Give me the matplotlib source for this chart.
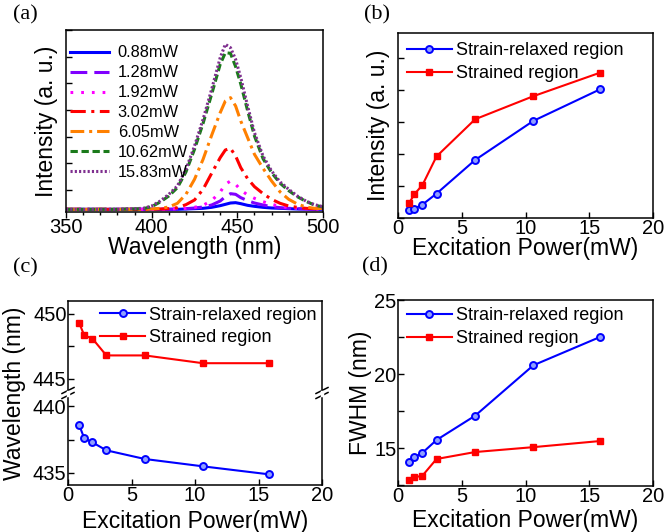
import numpy as np
import matplotlib
matplotlib.use("Agg")
import matplotlib.pyplot as plt
from matplotlib.ticker import MultipleLocator
from matplotlib.lines import Line2D

plt.rcParams["font.family"] = ["Liberation Sans", "DejaVu Sans"]

# (a) PL spectra, intensity in a.u.
wl = [350, 380, 395, 400, 405, 410, 415, 420, 425, 430, 435, 440, 443,
      446, 449, 452, 456, 460, 465, 470, 475, 480, 485, 490, 495, 500]
spec_088 = [0, 0, 0, 0, 0, 0, 0, 1, 2, 3, 6, 11, 15, 19, 20, 17, 12, 9, 6, 4, 3, 2, 1, 1, 0, 0]
spec_128 = [0, 0, 0, 0, 0, 0, 1, 2, 4, 7, 13, 25, 38, 47, 45, 35, 26, 19, 13, 8, 5, 3, 2, 1, 0, 0]
spec_192 = [0, 0, 0, 0, 0, 1, 2, 3, 6, 12, 26, 52, 75, 85, 75, 58, 43, 33, 23, 15, 9, 5, 3, 2, 1, 0]
spec_302 = [0, 0, 0, 0, 1, 2, 5, 14, 28, 60, 108, 155, 178, 183, 160, 125, 92, 68, 47, 30, 18, 10, 6, 3, 2, 1]
spec_605 = [0, 0, 0, 1, 3, 7, 18, 45, 90, 150, 222, 290, 325, 335, 310, 265, 215, 165, 123, 85, 52, 30, 16, 7, 3, 2]
spec_1062 = [0, 0, 2, 8, 22, 40, 65, 112, 180, 258, 345, 435, 470, 468, 428, 376, 296, 220, 152, 110, 78, 56, 38, 24, 13, 7]
spec_1583 = [0, 0, 3, 10, 25, 45, 70, 120, 190, 270, 360, 455, 495, 485, 450, 395, 310, 230, 160, 115, 82, 60, 40, 25, 14, 8]
spec_labels = ["0.88mW", "1.28mW", "1.92mW", "3.02mW", "6.05mW", "10.62mW", "15.83mW"]

# (b)-(d) vs excitation power
power = [0.88, 1.28, 1.92, 3.02, 6.05, 10.62, 15.83]
int_relaxed = [0.26, 0.29, 0.42, 0.76, 1.81, 3.03, 4.01]
int_strained = [0.47, 0.74, 1.03, 1.92, 3.08, 3.80, 4.53]
wl_relaxed = [438.6, 437.6, 437.3, 436.7, 436.05, 435.5, 434.9]
wl_strained = [449.3, 448.35, 448.1, 446.8, 446.8, 446.2, 446.2]
fwhm_relaxed = [14.1, 14.4, 14.7, 15.56, 17.2, 20.6, 22.5]
fwhm_strained = [12.87, 13.04, 13.16, 14.28, 14.75, 15.08, 15.49]
series_labels = ["Strain-relaxed region", "Strained region"]

W, H = 665, 532
fig = plt.figure(figsize=(W / 100, H / 100), dpi=100)


def box(l, t, r, b):
    return [l / W, 1 - b / H, (r - l) / W, (b - t) / H]


LBL = 16.5
TICK = 14.5
SPW = 1.1


def style(ax, xdir="in"):
    for s in ax.spines.values():
        s.set_linewidth(SPW)
    ax.tick_params(axis="y", direction="in", length=4, width=1, labelsize=TICK, pad=1)
    ax.tick_params(axis="y", which="minor", direction="in", length=4, width=1)
    ax.tick_params(axis="x", direction=xdir, length=4, width=1, labelsize=TICK, pad=0.5)


def panel_letter(x, y, s):
    fig.text(x / W, 1 - y / H, s, family=["Liberation Serif", "DejaVu Serif"],
             fontsize=16, ha="center", va="center")


def fix_labels(ax, xc, yc):
    ax.xaxis.set_label_coords(*xc)
    ax.xaxis.label.set_va("center")
    if yc is not None:
        ax.yaxis.set_label_coords(*yc)
        ax.yaxis.label.set_va("center")


# ---------------- (a)
ax = fig.add_axes(box(66, 30, 323, 212))
styles = [
    dict(color="#0000ff", ls="-"),
    dict(color="#8000ff", dashes=(5.5, 2.3)),
    dict(color="#ff00ff", dashes=(0.9, 2.6)),
    dict(color="#ff0000", dashes=(5, 1.8, 1, 1.8)),
    dict(color="#ff8000", dashes=(4.5, 1.6, 1, 1.6)),
    dict(color="#1a7a1a", dashes=(2.4, 1.2)),
    dict(color="#7f2f8f", dashes=(0.7, 0.7)),
]
specs = [spec_088, spec_128, spec_192, spec_302, spec_605, spec_1062, spec_1583]
for sp, st, lab in zip(specs, styles, spec_labels):
    ax.plot(wl, sp, lw=2.2, label=lab, **st)
ax.set_xlim(350, 500)
ax.set_ylim(-8, 538)
ax.xaxis.set_major_locator(MultipleLocator(50))
ax.xaxis.set_minor_locator(MultipleLocator(10))
ax.yaxis.set_major_locator(MultipleLocator(80, offset=58))
ax.set_yticklabels([])
style(ax, xdir="out")
ax.tick_params(axis="x", which="minor", direction="out", length=2.5, width=1)
ax.set_xlabel("Wavelength (nm)", fontsize=LBL)
ax.set_ylabel("Intensity (a. u.)", fontsize=LBL)
fix_labels(ax, (0.5, -0.195), (-0.074, 0.5))
ax.legend(loc="upper left", bbox_to_anchor=(0.016, 0.915), frameon=False,
          fontsize=11.8, handlelength=2.4, handletextpad=0.5, labelspacing=0.3,
          borderpad=0, borderaxespad=0)
panel_letter(25, 15, "(a)")

blue_kw = dict(color="#0000ff", lw=1.5, marker="o", ms=5, mfc="#8f9fff",
               mec="#0000ff", mew=1.4)
red_kw = dict(color="#ff0000", lw=1.5, marker="s", ms=5, mfc="#ff0000",
              mec="#ff0000")
leg_kw = dict(frameon=False, fontsize=13, handlelength=2.5, handletextpad=0.2,
              labelspacing=0.33, borderpad=0, borderaxespad=0, loc="upper left")

# ---------------- (b)
ax = fig.add_axes(box(398, 33, 653, 218))
ax.plot(power, int_relaxed, label=series_labels[0], **blue_kw)
ax.plot(power, int_strained, label=series_labels[1], **red_kw)
ax.set_xlim(0, 20)
ax.set_ylim(0, 5.77)
ax.xaxis.set_major_locator(MultipleLocator(5))
ax.yaxis.set_major_locator(MultipleLocator(1))
ax.set_yticklabels([])
style(ax)
ax.set_xlabel("Excitation Power(mW)", fontsize=LBL)
ax.set_ylabel("Intensity (a. u.)", fontsize=LBL)
fix_labels(ax, (0.5, -0.165), (-0.078, 0.5))
ax.legend(bbox_to_anchor=(0.035, 0.95), **leg_kw)
panel_letter(377, 15, "(b)")

# ---------------- (c) broken y axis
axu = fig.add_axes(box(68, 301, 322, 393))
axl = fig.add_axes(box(68, 393, 322, 485))
axu.plot(power, wl_strained, **red_kw)
axl.plot(power, wl_relaxed, **blue_kw)
for a in (axu, axl):
    a.set_xlim(0, 20)
    a.xaxis.set_major_locator(MultipleLocator(5))
    a.yaxis.set_major_locator(MultipleLocator(5))
    a.yaxis.set_minor_locator(MultipleLocator(2.5))
    style(a)
axu.set_ylim(443.9, 451.0)
axl.set_ylim(434.1, 441.0)
axu.spines["bottom"].set_visible(False)
axl.spines["top"].set_visible(False)
axu.tick_params(axis="x", which="both", bottom=False, labelbottom=False)
axl.set_xlabel("Excitation Power(mW)", fontsize=LBL)
fix_labels(axl, (0.5, -0.40), None)
fig.text(15 / W, 1 - 393 / H, "Wavelength (nm)", rotation=90, fontsize=LBL,
         ha="center", va="center")
axu.legend(handles=[Line2D([], [], **blue_kw), Line2D([], [], **red_kw)],
           labels=series_labels, bbox_to_anchor=(0.126, 0.94), **leg_kw)
# break marks on both spines
for xb in (68, 322):
    for dy in (-2.5, 2.5):
        fig.add_artist(Line2D([(xb - 6) / W, (xb + 6) / W],
                              [1 - (393 + dy + 3) / H, 1 - (393 + dy - 3) / H],
                              color="k", lw=1.1))
    fig.add_artist(Line2D([xb / W, xb / W], [1 - 394.5 / H, 1 - 391.5 / H],
                          color="white", lw=2.5))
panel_letter(25, 268, "(c)")

# ---------------- (d)
ax = fig.add_axes(box(398, 300, 653, 486))
ax.plot(power, fwhm_relaxed, label=series_labels[0], **blue_kw)
ax.plot(power, fwhm_strained, label=series_labels[1], **red_kw)
ax.set_xlim(0, 20)
ax.set_ylim(12.46, 25)
ax.xaxis.set_major_locator(MultipleLocator(5))
ax.yaxis.set_major_locator(MultipleLocator(5))
ax.yaxis.set_minor_locator(MultipleLocator(2.5))
style(ax)
ax.set_xlabel("Excitation Power(mW)", fontsize=LBL)
ax.set_ylabel("FWHM (nm)", fontsize=LBL)
fix_labels(ax, (0.5, -0.185), (-0.149, 0.5))
ax.legend(bbox_to_anchor=(0.035, 0.96), **leg_kw)
panel_letter(375, 267, "(d)")

fig.savefig("out.png", dpi=100)
